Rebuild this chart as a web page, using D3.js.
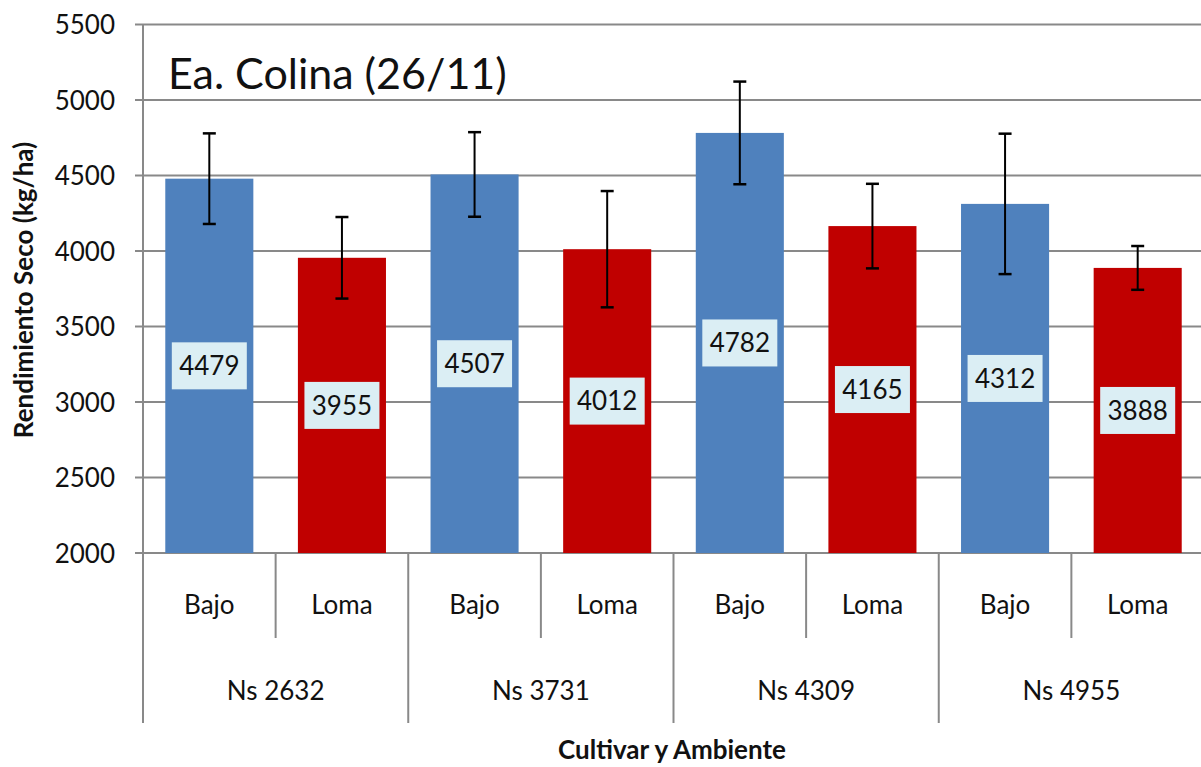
<!DOCTYPE html>
<html>
<head>
<meta charset="utf-8">
<script src="https://cdn.jsdelivr.net/npm/d3@7"></script>
<style>
  body { margin: 0; background: white; overflow: hidden; }
  svg { display: block; font-family: Lato, "Noto Sans", sans-serif; }
</style>
</head>
<body>
<div id="chart"></div>
<script>
// data
let cultivares = ["Ns 2632", "Ns 3731", "Ns 4309", "Ns 4955"];
let ambientes = ["Bajo", "Loma"];
let rendimiento = [4479, 3955, 4507, 4012, 4782, 4165, 4312, 3888];
let errores = [300, 270, 280, 385, 340, 280, 465, 145];
let yTicks = [2000, 2500, 3000, 3500, 4000, 4500, 5000, 5500];
let colores = { Bajo: "#4F81BD", Loma: "#C00000" };

let W = 1201, H = 767;
let plotLeft = 143, plotRight = 1204, plotTop = 24.5, plotBottom = 553;

let svg = d3.select("#chart").append("svg")
    .attr("width", W)
    .attr("height", H);

// build one row per bar
let rows = [];
cultivares.forEach(function(c, i) {
    ambientes.forEach(function(a, j) {
        let k = i * ambientes.length + j;
        rows.push({ id: c + "|" + a, cultivar: c, ambiente: a, valor: rendimiento[k], err: errores[k] });
    });
});

let x = d3.scaleBand()
    .domain(rows.map(d => d.id))
    .range([plotLeft, plotRight])
    .paddingInner(0.336)
    .paddingOuter(0.168);

let xGroup = d3.scaleBand()
    .domain(cultivares)
    .range([plotLeft, plotRight]);

let y = d3.scaleLinear()
    .domain([2000, 5500])
    .range([plotBottom, plotTop]);

let gridColor = "#898989";

// gridlines (with the small outside tick)
svg.append("g").selectAll("line")
    .data(yTicks).enter().append("line")
    .attr("x1", plotLeft - 8)
    .attr("x2", plotRight)
    .attr("y1", d => y(d))
    .attr("y2", d => y(d))
    .attr("stroke", gridColor)
    .attr("stroke-width", 2);

// y axis labels
let yAxis = svg.append("g")
    .attr("transform", "translate(" + (plotLeft - 28) + ",0)")
    .call(d3.axisLeft(y).tickValues(yTicks).tickFormat(d3.format("d")).tickSize(0).tickPadding(0));
yAxis.select(".domain").remove();
yAxis.selectAll("text")
    .attr("font-size", 26)
    .attr("font-family", "Lato, sans-serif")
    .attr("fill", "#111")
    .attr("dy", "0.36em");

// y axis line
svg.append("line")
    .attr("x1", plotLeft).attr("x2", plotLeft)
    .attr("y1", plotTop).attr("y2", plotBottom)
    .attr("stroke", gridColor)
    .attr("stroke-width", 2);

// bars
let bars = svg.append("g").selectAll("g")
    .data(rows).enter().append("g");

bars.append("rect")
    .attr("x", d => x(d.id))
    .attr("y", d => y(d.valor))
    .attr("width", x.bandwidth())
    .attr("height", d => y(2000) - y(d.valor))
    .attr("fill", d => colores[d.ambiente]);

// error bars
let capW = 13;
bars.append("line")
    .attr("x1", d => x(d.id) + x.bandwidth() / 2)
    .attr("x2", d => x(d.id) + x.bandwidth() / 2)
    .attr("y1", d => y(d.valor + d.err))
    .attr("y2", d => y(d.valor - d.err))
    .attr("stroke", "#000")
    .attr("stroke-width", 2);
bars.selectAll(".cap")
    .data(d => [{ d: d, v: d.valor + d.err }, { d: d, v: d.valor - d.err }])
    .enter().append("line")
    .attr("class", "cap")
    .attr("x1", e => x(e.d.id) + x.bandwidth() / 2 - capW / 2)
    .attr("x2", e => x(e.d.id) + x.bandwidth() / 2 + capW / 2)
    .attr("y1", e => y(e.v))
    .attr("y2", e => y(e.v))
    .attr("stroke", "#000")
    .attr("stroke-width", 2.5);

// value labels, centred in the bar
let boxW = 75, boxH = 47;
bars.append("rect")
    .attr("x", d => x(d.id) + x.bandwidth() / 2 - boxW / 2)
    .attr("y", d => (y(d.valor) + y(2000)) / 2 - boxH / 2)
    .attr("width", boxW)
    .attr("height", boxH)
    .attr("fill", "#DBEEF4");
bars.append("text")
    .text(d => d.valor)
    .attr("x", d => x(d.id) + x.bandwidth() / 2)
    .attr("y", d => (y(d.valor) + y(2000)) / 2)
    .attr("dy", "0.36em")
    .attr("text-anchor", "middle")
    .attr("font-size", 26)
    .attr("fill", "#111");

// bottom axis: ticks between bars and between groups
let step = x.step();
let smallTicks = rows.map((d, i) => plotLeft + step * i).filter((d, i) => i % 2 === 1);
svg.append("g").selectAll("line")
    .data(smallTicks).enter().append("line")
    .attr("x1", d => d).attr("x2", d => d)
    .attr("y1", plotBottom).attr("y2", 638)
    .attr("stroke", gridColor)
    .attr("stroke-width", 2);
svg.append("g").selectAll("line")
    .data(cultivares).enter().append("line")
    .attr("x1", d => xGroup(d))
    .attr("x2", d => xGroup(d))
    .attr("y1", plotBottom).attr("y2", 723)
    .attr("stroke", gridColor)
    .attr("stroke-width", 2);

// ambiente labels
svg.append("g").selectAll("text")
    .data(rows).enter().append("text")
    .text(d => d.ambiente)
    .attr("x", d => x(d.id) + x.bandwidth() / 2)
    .attr("y", 614)
    .attr("text-anchor", "middle")
    .attr("font-size", 26)
    .attr("fill", "#111");

// cultivar labels
svg.append("g").selectAll("text")
    .data(cultivares).enter().append("text")
    .text(d => d)
    .attr("x", d => xGroup(d) + xGroup.bandwidth() / 2)
    .attr("y", 700)
    .attr("text-anchor", "middle")
    .attr("font-size", 26)
    .attr("fill", "#111");

// axis titles
svg.append("text")
    .text("Cultivar y Ambiente")
    .attr("x", 672)
    .attr("y", 759)
    .attr("text-anchor", "middle")
    .attr("font-size", 26)
    .attr("font-weight", "bold")
    .attr("fill", "#111");

svg.append("text")
    .text("Rendimiento Seco (kg/ha)")
    .attr("transform", "translate(33,290) rotate(-90)")
    .attr("text-anchor", "middle")
    .attr("font-size", 26)
    .attr("font-weight", "bold")
    .attr("fill", "#111");

// chart title
svg.append("text")
    .text("Ea. Colina (26/11)")
    .attr("x", 168)
    .attr("y", 89)
    .attr("font-size", 43)
    .attr("fill", "#111");
</script>
</body>
</html>
